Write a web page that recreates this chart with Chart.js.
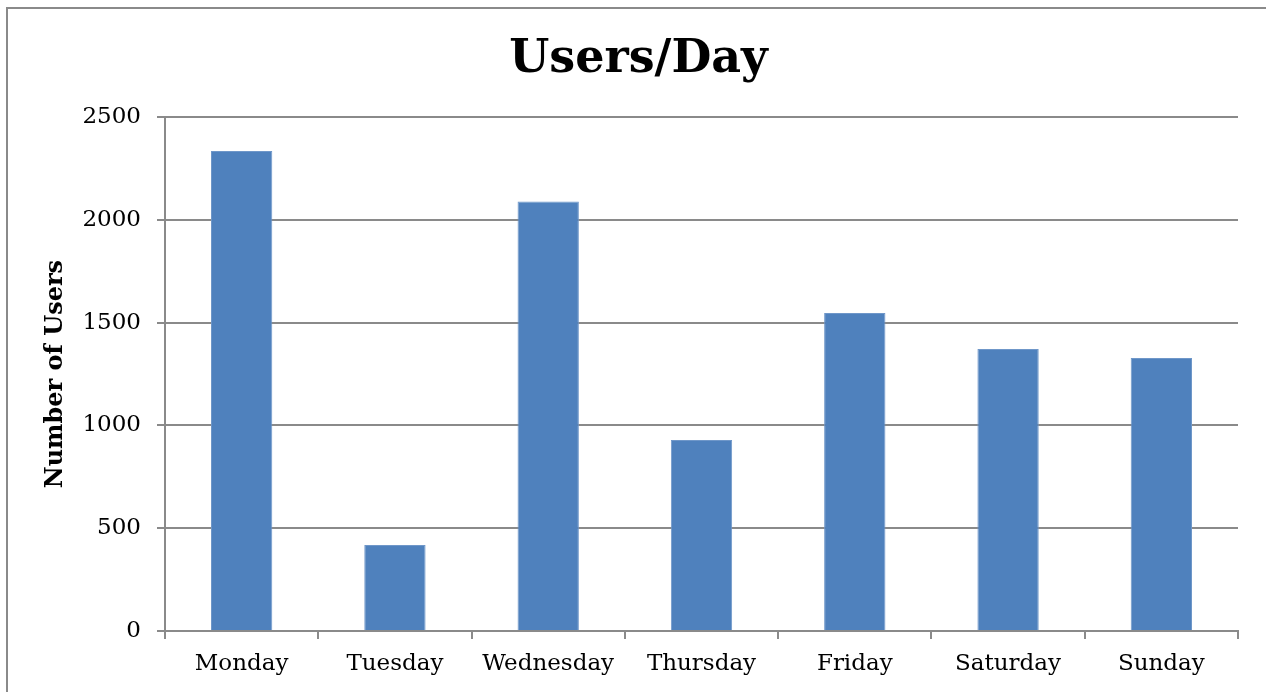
<!DOCTYPE html>
<html lang="en">

<head>
  <meta charset="UTF-8" />
  <title>Users/Day</title>
  <script src="https://cdn.jsdelivr.net/npm/chart.js"></script>
  <style>
    html, body { margin: 0; padding: 0; background: #fff; overflow: hidden; }
    #frame {
      position: absolute; left: 6px; top: 7px; width: 1400px; height: 800px;
      border-left: 2px solid #8a8a8a; border-top: 2px solid #8a8a8a;
    }
    #chart { position: absolute; left: 0; top: 0; }
  </style>
</head>

<body>
  <div id="frame"></div>
  <canvas id="chart" width="1266" height="692"></canvas>

  <script>
    const days = ["Monday", "Tuesday", "Wednesday", "Thursday", "Friday", "Saturday", "Sunday"];
    const users = [2335, 418, 2090, 929, 1547, 1372, 1328];
    const yTicks = [0, 500, 1000, 1500, 2000, 2500];

    const gray = "#8a8a8a";
    const serif = "'DejaVu Serif', Georgia, serif";

    new Chart(document.getElementById("chart").getContext("2d"), {
      type: "bar",
      data: {
        labels: days,
        datasets: [{
          label: "Users",
          data: users,
          backgroundColor: "#4F81BD",
          borderColor: "#6f97c9",
          borderWidth: 1,
          barPercentage: 0.4,
          categoryPercentage: 1.0
        }]
      },
      options: {
        responsive: false,
        animation: false,
        // left pad keeps the title centred like the original; right spacer axis below
        layout: { padding: { left: 11, right: 0, top: 0, bottom: 0 } },
        plugins: {
          legend: { display: false },
          tooltip: { enabled: false },
          title: {
            display: true,
            text: "Users/Day",
            color: "#000",
            font: { family: serif, size: 46, weight: "bold", lineHeight: 1.2 },
            padding: { top: 32, bottom: 30 }
          }
        },
        scales: {
          x: {
            grid: {
              display: true,
              offset: true,
              drawOnChartArea: false,
              drawTicks: true,
              tickLength: 8,
              color: gray,
              lineWidth: 2
            },
            border: { display: true, color: gray, width: 2 },
            ticks: {
              color: "#000",
              font: { family: serif, size: 23 },
              padding: 11,
              maxRotation: 0
            },
            afterFit: scale => { scale.height = 61; }
          },
          y: {
            min: 0,
            max: 2500,
            afterBuildTicks: scale => { scale.ticks = yTicks.map(v => ({ value: v })); },
            grid: {
              color: gray,
              lineWidth: 2,
              drawTicks: true,
              tickLength: 8
            },
            border: { display: true, color: gray, width: 2 },
            ticks: {
              color: "#000",
              font: { family: serif, size: 23 },
              padding: 16,
              callback: v => String(v)
            },
            title: {
              display: true,
              text: "Number of Users",
              color: "#000",
              font: { family: serif, size: 24, weight: "bold", lineHeight: 1.2 },
              padding: { top: 30, bottom: 0 }
            },
            afterFit: scale => { scale.width = 154; }
          },
          spacer: {
            type: "linear",
            position: "right",
            display: true,
            grid: { display: false, drawOnChartArea: false },
            border: { display: false },
            ticks: { display: false },
            afterFit: scale => { scale.width = 28; }
          }
        }
      }
    });
  </script>
</body>

</html>
